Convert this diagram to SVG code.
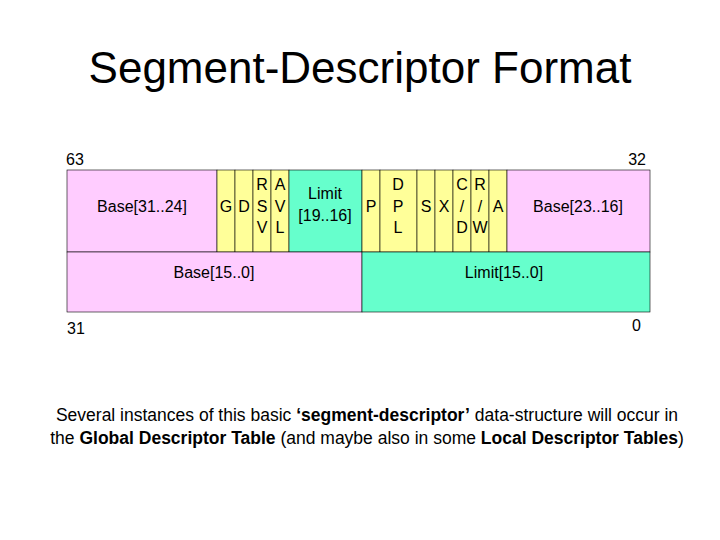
<svg xmlns="http://www.w3.org/2000/svg" width="720" height="540" viewBox="0 0 720 540">
<style>
text{font-family:"Liberation Sans",Arial,sans-serif;fill:#000}
.b{stroke:#000;stroke-width:0.6}
.pk{fill:#FFCCFF}.yl{fill:#FFFF99}.tl{fill:#66FFCC}
.f{font-size:16px;text-anchor:middle}
</style>
<rect width="720" height="540" fill="#fff"/>
<text x="360" y="83" font-size="44" text-anchor="middle">Segment-Descriptor Format</text>
<text x="66" y="165" font-size="16">63</text>
<text x="646" y="165" font-size="16" text-anchor="end">32</text>
<text x="67" y="334" font-size="16">31</text>
<text x="641" y="331" font-size="16" text-anchor="end">0</text>
<g id="row1">
<rect class="b pk" x="67" y="170" width="150" height="82"/>
<rect class="b yl" x="217" y="170" width="18" height="82"/>
<rect class="b yl" x="235" y="170" width="18" height="82"/>
<rect class="b yl" x="253" y="170" width="18" height="82"/>
<rect class="b yl" x="271" y="170" width="18" height="82"/>
<rect class="b tl" x="289" y="170" width="73" height="82"/>
<rect class="b yl" x="362" y="170" width="18" height="82"/>
<rect class="b yl" x="380" y="170" width="37" height="82"/>
<rect class="b yl" x="417" y="170" width="18" height="82"/>
<rect class="b yl" x="435" y="170" width="18" height="82"/>
<rect class="b yl" x="453" y="170" width="18" height="82"/>
<rect class="b yl" x="471" y="170" width="18" height="82"/>
<rect class="b yl" x="489" y="170" width="18" height="82"/>
<rect class="b pk" x="507" y="170" width="143" height="82"/>
<text class="f" x="142" y="212">Base[31..24]</text>
<text class="f" x="226" y="212">G</text>
<text class="f" x="244" y="212">D</text>
<text class="f" x="262" y="190">R</text><text class="f" x="262" y="212">S</text><text class="f" x="262" y="233">V</text>
<text class="f" x="280" y="190">A</text><text class="f" x="280" y="212">V</text><text class="f" x="280" y="233">L</text>
<text class="f" x="325" y="199">Limit</text><text class="f" x="325" y="221">[19..16]</text>
<text class="f" x="371" y="212">P</text>
<text class="f" x="398" y="190">D</text><text class="f" x="398" y="212">P</text><text class="f" x="398" y="233">L</text>
<text class="f" x="426" y="212">S</text>
<text class="f" x="444" y="212">X</text>
<text class="f" x="462" y="190">C</text><text class="f" x="462" y="212">/</text><text class="f" x="462" y="233">D</text>
<text class="f" x="480" y="190">R</text><text class="f" x="480" y="212">/</text><text class="f" x="480" y="233">W</text>
<text class="f" x="498" y="212">A</text>
<text class="f" x="578" y="212">Base[23..16]</text>
</g>
<g id="row2">
<rect class="b pk" x="67" y="252" width="295" height="60"/>
<rect class="b tl" x="362" y="252" width="288" height="60"/>
<text class="f" x="214" y="278">Base[15..0]</text>
<text class="f" x="504" y="278">Limit[15..0]</text>
</g>
<text x="367" y="421" font-size="17.5" text-anchor="middle">Several instances of this basic <tspan font-weight="bold">‘segment-descriptor’</tspan> data-structure will occur in</text>
<text x="367" y="444" font-size="17.5" text-anchor="middle">the <tspan font-weight="bold">Global Descriptor Table</tspan> (and maybe also in some <tspan font-weight="bold">Local Descriptor Tables</tspan>)</text>
</svg>
